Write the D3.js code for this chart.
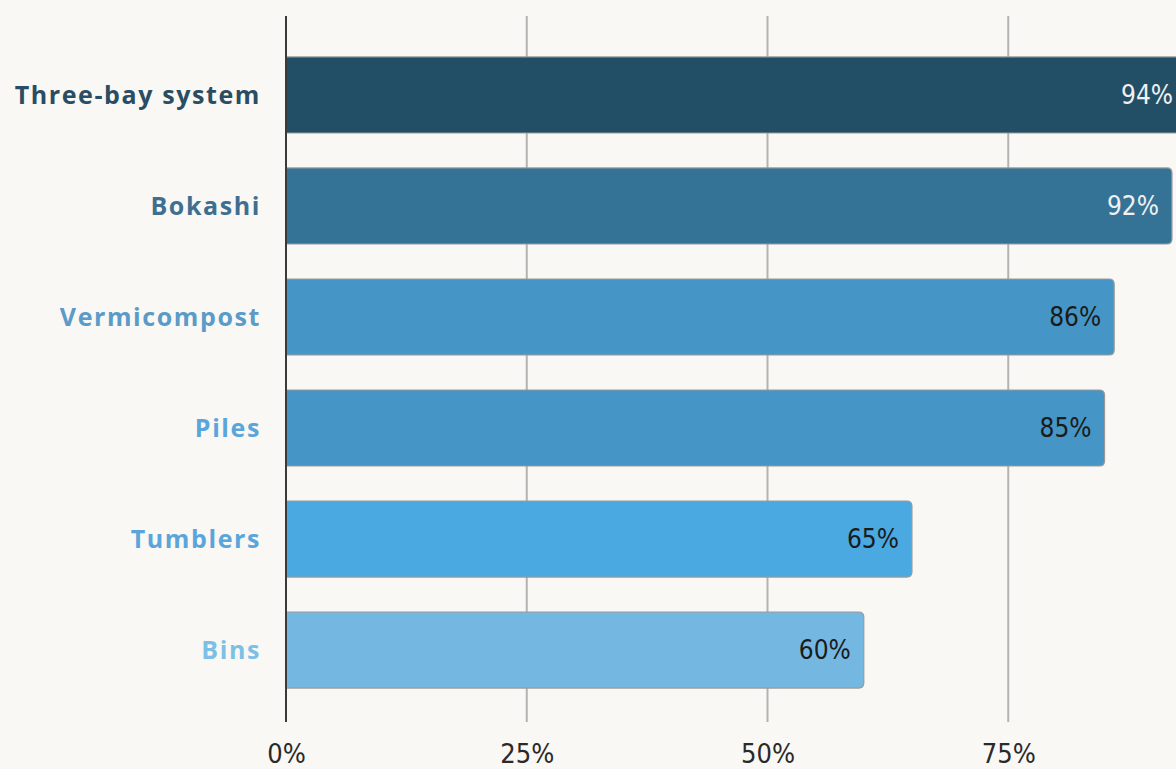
<!DOCTYPE html>
<html>
<head>
<meta charset="utf-8">
<script src="https://cdn.jsdelivr.net/npm/d3@7"></script>
<style>
  html, body { margin: 0; padding: 0; background: #f9f8f4; overflow: hidden; }
  svg { display: block; }
</style>
</head>
<body>
<svg id="chart" width="1176" height="769"></svg>
<script>
const methods = ['Three-bay system', 'Bokashi', 'Vermicompost', 'Piles', 'Tumblers', 'Bins'];
const shares = [94, 92, 86, 85, 65, 60];
const ticks = [0, 25, 50, 75];

const barColors = ['#234f66', '#347396', '#4596c6', '#4596c6', '#4aa9e0', '#74b7e0'];
const labelColors = ['#2a4d63', '#3f6f90', '#5a9bc8', '#5aa5da', '#5aa5da', '#7cc0e8'];
const valueColors = ['#f0f0f0', '#f0f0f0', '#1b1b1b', '#1b1b1b', '#1b1b1b', '#1b1b1b'];

const data = methods.map((m, i) => ({ method: m, value: shares[i], i }));

const svg = d3.select('#chart');

let x = d3.scaleLinear().domain([0, 100]).range([286, 1249]);
let y = d3.scaleBand().domain(methods).range([22, 723]).paddingInner(0.315).paddingOuter(0.315);

const numFont = '"DejaVu Sans Condensed", sans-serif';

// gridlines
svg.append('g')
  .selectAll('line')
  .data(ticks.filter(t => t > 0))
  .join('line')
  .attr('x1', d => x(d)).attr('x2', d => x(d))
  .attr('y1', 16).attr('y2', 722)
  .attr('stroke', '#b3b3b3')
  .attr('stroke-width', 2);

// bars, rounded only on the right end
function barPath(d) {
  let x0 = x(0), x1 = x(d.value), y0 = y(d.method), h = y.bandwidth(), r = 5;
  return `M${x0},${y0} H${x1 - r} Q${x1},${y0} ${x1},${y0 + r} V${y0 + h - r} Q${x1},${y0 + h} ${x1 - r},${y0 + h} H${x0} Z`;
}

svg.append('g')
  .selectAll('path')
  .data(data)
  .join('path')
  .attr('d', barPath)
  .attr('fill', d => barColors[d.i])
  .attr('stroke', '#9a9a9a')
  .attr('stroke-width', 1.2);

// value labels
svg.append('g')
  .selectAll('text')
  .data(data)
  .join('text')
  .attr('x', d => Math.min(x(d.value), 1186) - 13)
  .attr('y', d => y(d.method) + y.bandwidth() / 2)
  .attr('dy', '0.36em')
  .attr('text-anchor', 'end')
  .attr('fill', d => valueColors[d.i])
  .style('font-family', numFont)
  .style('font-size', '26px')
  .text(d => d.value + '%');

// category labels
svg.append('g')
  .selectAll('text')
  .data(data)
  .join('text')
  .attr('x', 261)
  .attr('y', d => y(d.method) + y.bandwidth() / 2)
  .attr('dy', '0.36em')
  .attr('text-anchor', 'end')
  .attr('fill', d => labelColors[d.i])
  .style('font-family', '"Open Sans", sans-serif')
  .style('font-weight', 700)
  .style('font-size', '25px')
  .style('letter-spacing', '1.6px')
  .text(d => d.method);

// zero axis line
svg.append('line')
  .attr('x1', x(0)).attr('x2', x(0))
  .attr('y1', 16).attr('y2', 722)
  .attr('stroke', '#3a3a3a')
  .attr('stroke-width', 2);

// x tick labels
let xAxis = d3.axisBottom(x).tickValues(ticks).tickFormat(d => d + '%').tickSize(0).tickPadding(0);
let gx = svg.append('g').attr('transform', 'translate(0,744)').call(xAxis);
gx.select('.domain').remove();
gx.selectAll('text')
  .attr('fill', '#2a2a2a')
  .style('font-family', numFont)
  .style('font-size', '27px');
</script>
</body>
</html>
